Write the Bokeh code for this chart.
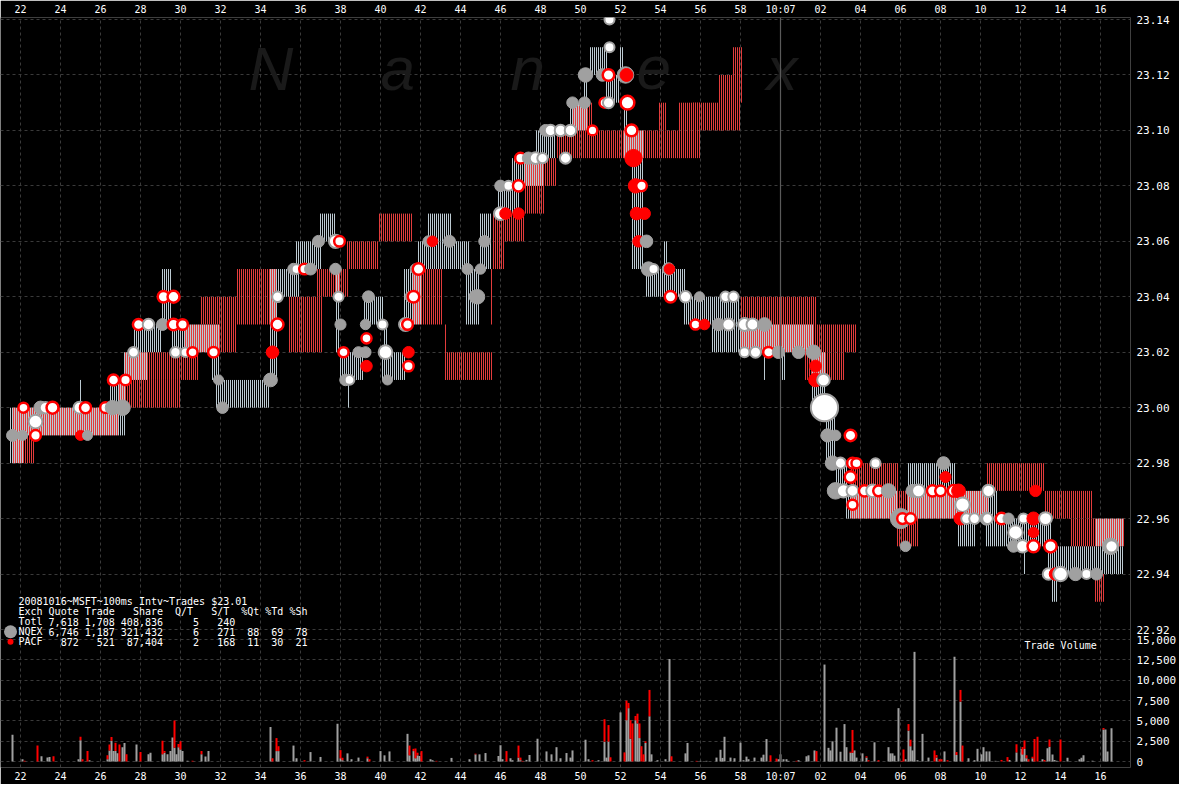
import numpy as np
from bokeh.plotting import figure
from bokeh.models import ColumnDataSource, FixedTicker, LinearAxis, Range1d, Span, Label
from bokeh.core.properties import value
from bokeh.embed import file_html
from bokeh.resources import INLINE

# ---------------- data ----------------
TICK_SECONDS = [22, 24, 26, 28, 30, 32, 34, 36, 38, 40, 42, 44, 46, 48, 50, 52, 54, 56, 58,
                60, 62, 64, 66, 68, 70, 72, 74, 76]
TICK_LABELS = ["22", "24", "26", "28", "30", "32", "34", "36", "38", "40", "42", "44", "46", "48",
               "50", "52", "54", "56", "58", "10:07", "02", "04", "06", "08", "10", "12", "14", "16"]
PRICE_TICKS = [22.92, 22.94, 22.96, 22.98, 23.00, 23.02, 23.04, 23.06, 23.08, 23.10, 23.12, 23.14]
PRICE_LABELS = ["22.92", "22.94", "22.96", "22.98", "23.00", "23.02", "23.04", "23.06", "23.08",
                "23.10", "23.12", "23.14"]
VOLUME_TICKS = [0, 2500, 5000, 7500, 10000, 12500, 15000]
VOLUME_LABELS = ["0", "2,500", "5,000", "7,500", "10,000", "12,500", "15,000"]

# NQEX quote ranges (seconds after 10:06:00, low, high)
NQ_T0 = [21.5, 22.2, 25.0, 26.5, 27.2, 27.7, 29.1, 29.6, 31.6, 31.8, 34.5, 34.8, 35.8, 37.0, 37.75,
         38.0, 38.4, 39.25, 40.1, 40.2, 41.25, 41.9, 42.4, 44.3, 45.0, 45.9, 46.6, 47.75, 49.5, 50.2,
         50.5, 51.3, 52.0, 52.2, 52.2, 52.6, 53.3, 54.2, 55.25, 56.6, 59.2, 60.0, 61.6, 62.3, 62.8,
         63.3, 66.4, 66.4, 68.9, 70.3, 70.9, 72.2, 73.4, 73.6, 75.85]
NQ_T1 = [22.2, 27.3, 25.1, 27.3, 28.4, 29.1, 29.6, 32.0, 32.0, 34.5, 34.9, 36.0, 37.1, 37.75, 38.0,
         39.2, 38.5, 40.2, 41.3, 40.35, 42.1, 44.5, 43.6, 45.0, 45.6, 47.0, 48.2, 48.8, 50.4, 50.4,
         51.4, 52.0, 52.2, 52.4, 53.2, 53.25, 55.3, 54.4, 58.0, 61.7, 59.3, 60.3, 62.3, 62.8, 63.4,
         65.9, 68.75, 70.4, 69.75, 70.9, 73.6, 72.3, 77.25, 73.9, 77.25]
NQ_LO = [22.98, 22.99, 23.00, 23.00, 23.01, 23.02, 23.03, 23.02, 23.01, 23.00, 23.01, 23.04, 23.05,
         23.06, 23.02, 23.01, 23.00, 23.03, 23.01, 23.02, 23.03, 23.05, 23.06, 23.03, 23.05, 23.07,
         23.08, 23.09, 23.10, 23.11, 23.12, 23.11, 23.12, 23.10, 23.09, 23.05, 23.04, 23.05, 23.03,
         23.02, 23.01, 23.01, 23.00, 22.98, 22.97, 22.96, 22.97, 22.96, 22.95, 22.95, 22.95, 22.94,
         22.94, 22.93, 22.95]
NQ_HI = [23.00, 23.00, 23.01, 23.01, 23.02, 23.03, 23.05, 23.03, 23.02, 23.01, 23.05, 23.05, 23.06,
         23.07, 23.05, 23.02, 23.01, 23.04, 23.02, 23.03, 23.05, 23.06, 23.07, 23.05, 23.07, 23.08,
         23.09, 23.10, 23.11, 23.12, 23.13, 23.12, 23.13, 23.11, 23.10, 23.09, 23.05, 23.06, 23.04,
         23.03, 23.02, 23.02, 23.02, 23.00, 22.98, 22.97, 22.98, 22.97, 22.96, 22.97, 22.96, 22.95,
         22.95, 22.94, 22.96]

# PACF quote ranges
PA_T0 = [21.6, 22.2, 22.1, 26.9, 27.2, 30.2, 31.0, 32.0, 32.8, 35.35, 36.75, 38.3, 39.9, 41.6, 43.2,
         43.2, 45.5, 45.6, 45.6, 47.2, 48.2, 48.8, 49.6, 53.9, 54.9, 55.6, 56.9, 57.55, 58.0, 61.2,
         61.75, 63.5, 65.85, 66.9, 70.3, 73.2, 74.5, 75.6, 75.7]
PA_T1 = [22.2, 22.7, 26.9, 30.0, 30.9, 32.0, 32.0, 32.8, 34.85, 37.1, 38.4, 39.9, 41.6, 43.1, 43.3,
         45.6, 45.6, 46.25, 47.2, 48.25, 48.8, 55.0, 50.6, 54.3, 56.0, 57.2, 58.0, 58.1, 61.75, 63.25,
         63.75, 65.9, 66.9, 70.4, 73.2, 75.6, 75.6, 77.25, 76.25]
PA_LO = [22.98, 22.98, 22.99, 23.00, 23.01, 23.02, 23.03, 23.02, 23.03, 23.02, 23.04, 23.05, 23.06,
         23.03, 23.01, 23.01, 23.03, 23.05, 23.06, 23.07, 23.08, 23.09, 23.10, 23.10, 23.09, 23.10,
         23.10, 23.11, 23.02, 23.01, 23.02, 22.96, 22.95, 22.96, 22.97, 22.96, 22.95, 22.95, 22.93]
PA_HI = [23.00, 22.99, 23.00, 23.01, 23.02, 23.03, 23.04, 23.04, 23.05, 23.04, 23.05, 23.06, 23.07,
         23.05, 23.03, 23.02, 23.05, 23.07, 23.07, 23.09, 23.09, 23.10, 23.11, 23.11, 23.11, 23.11,
         23.12, 23.13, 23.04, 23.02, 23.03, 22.98, 22.97, 22.97, 22.98, 22.97, 22.96, 22.96, 22.94]

# trades: time, price, shares, type (G = NQEX, W = NQEX white, R = PACF, RW = PACF white)
TR_T = [21.6, 22.1, 22.15, 22.75, 22.75, 23.0, 23.25, 23.6, 24.95, 25.25, 25.0, 25.35, 26.25, 26.6,
        27.1, 26.65, 27.25, 27.65, 27.9, 28.4, 29.1, 29.65, 30.1, 29.15, 29.65, 29.75, 30.25, 30.6,
        31.65, 31.9, 32.1, 34.5, 34.6, 34.85, 34.85, 35.65, 35.8, 36.2, 36.5, 36.9, 37.75, 37.95,
        37.75, 37.9, 38.0, 38.15, 38.25, 38.45, 39.4, 39.25, 40.1, 39.3, 38.9, 39.25, 39.3, 40.25,
        40.35, 41.25, 41.35, 41.4, 41.4, 41.5, 41.65, 41.75, 41.9, 42.4, 42.6, 43.45, 44.35, 45.0,
        44.75, 44.85, 45.2, 46.0, 46.25, 46.9, 46.0, 46.4, 46.9, 47.0, 47.4, 47.75, 48.1, 49.25,
        48.25, 48.5, 49.0, 49.5, 50.6, 49.6, 50.2, 51.2, 51.4, 50.25, 51.1, 51.4, 51.45, 51.45,
        52.25, 52.3, 52.35, 52.55, 52.65, 52.75, 53.05, 52.8, 53.2, 52.9, 53.3, 53.4, 53.65, 54.4,
        54.45, 54.5, 55.25, 55.95, 57.25, 57.65, 55.75, 56.2, 56.9, 57.4, 58.2, 58.6, 59.2, 58.2,
        58.75, 59.4, 59.9, 60.9, 61.65, 61.75, 61.75, 62.15, 62.2, 62.35, 62.75, 63.5, 62.6, 63.0,
        63.6, 63.8, 64.75, 63.5, 63.6, 62.75, 63.15, 63.6, 64.2, 64.6, 64.9, 65.4, 66.6, 66.9, 67.6,
        68.0, 68.65, 68.9, 70.4, 72.75, 68.15, 68.25, 69.1, 66.0, 66.1, 66.5, 69.0, 69.3, 69.7,
        70.3, 70.35, 71.05, 71.4, 72.15, 72.65, 73.25, 66.25, 71.75, 72.65, 71.65, 72.1, 72.65,
        73.5, 76.5, 76.55, 73.4, 73.75, 74.0, 74.75, 75.3, 75.8]
TR_P = [22.99, 22.99, 23.00, 22.995, 22.99, 23.00, 23.00, 23.00, 23.00, 23.00, 22.99, 22.99, 23.00,
        23.00, 23.00, 23.01, 23.01, 23.02, 23.03, 23.03, 23.03, 23.03, 23.03, 23.04, 23.04, 23.02,
        23.02, 23.02, 23.02, 23.01, 23.00, 23.01, 23.02, 23.03, 23.04, 23.05, 23.05, 23.05, 23.05,
        23.06, 23.06, 23.06, 23.05, 23.04, 23.03, 23.02, 23.01, 23.01, 23.04, 23.03, 23.03, 23.025,
        23.02, 23.02, 23.015, 23.02, 23.01, 23.03, 23.03, 23.02, 23.015, 23.04, 23.04, 23.05, 23.05,
        23.06, 23.06, 23.06, 23.05, 23.05, 23.04, 23.04, 23.06, 23.07, 23.07, 23.07, 23.08, 23.08,
        23.08, 23.09, 23.09, 23.09, 23.09, 23.09, 23.10, 23.10, 23.10, 23.10, 23.10, 23.11, 23.11,
        23.11, 23.11, 23.12, 23.12, 23.12, 23.13, 23.14, 23.12, 23.12, 23.11, 23.10, 23.09, 23.08,
        23.08, 23.07, 23.07, 23.06, 23.06, 23.05, 23.05, 23.05, 23.05, 23.04, 23.04, 23.04, 23.04,
        23.04, 23.03, 23.03, 23.03, 23.03, 23.03, 23.03, 23.03, 23.02, 23.02, 23.02, 23.02, 23.02,
        23.02, 23.015, 23.01, 23.01, 23.00, 22.99, 22.99, 22.99, 22.98, 22.98, 22.98, 22.98, 22.98,
        22.975, 22.965, 22.97, 22.97, 22.97, 22.97, 22.97, 22.97, 22.97, 22.97, 22.97, 22.97, 22.97,
        22.97, 22.97, 22.97, 22.97, 22.98, 22.975, 22.965, 22.96, 22.96, 22.96, 22.96, 22.96, 22.96,
        22.96, 22.96, 22.96, 22.96, 22.96, 22.96, 22.96, 22.95, 22.955, 22.955, 22.95, 22.95, 22.95,
        22.95, 22.95, 22.95, 22.94, 22.94, 22.94, 22.94, 22.94, 22.94]
TR_SH = [600, 200, 200, 1200, 300, 1000, 500, 600, 600, 400, 200, 200, 300, 1500, 2000, 400, 300,
         300, 400, 500, 600, 500, 300, 500, 600, 300, 150, 200, 300, 200, 500, 1200, 800, 600, 300,
         500, 150, 300, 600, 600, 1000, 300, 500, 200, 400, 200, 500, 150, 600, 250, 200, 200, 400,
         400, 500, 1200, 200, 900, 300, 500, 250, 400, 500, 300, 500, 400, 300, 600, 400, 250, 600,
         1500, 500, 900, 500, 500, 500, 200, 400, 300, 700, 500, 250, 400, 600, 500, 500, 500, 150,
         500, 500, 200, 400, 1500, 800, 500, 200, 200, 2500, 900, 1200, 600, 3000, 1500, 300, 800,
         600, 500, 800, 1500, 200, 800, 300, 500, 500, 200, 250, 250, 200, 300, 800, 700, 900, 600,
         1200, 200, 400, 300, 800, 800, 1500, 600, 1200, 800, 12000, 1000, 300, 500, 1500, 400, 300,
         200, 200, 500, 200, 2500, 1000, 600, 400, 800, 300, 1500, 900, 900, 400, 300, 500, 1200,
         700, 500, 900, 400, 1500, 5000, 300, 300, 900, 300, 300, 1000, 300, 500, 400, 200, 1000,
         900, 300, 1500, 300, 600, 800, 600, 700, 2500, 700, 500, 800, 1500, 1000, 200, 600]
TR_TY = ["G", "G", "RW", "W", "RW", "G", "W", "RW", "W", "RW", "R", "G", "RW", "G", "G", "RW", "RW",
         "W", "RW", "W", "G", "RW", "RW", "RW", "RW", "W", "W", "RW", "RW", "G", "G", "G", "R", "RW",
         "W", "G", "W", "RW", "G", "G", "W", "RW", "G", "W", "G", "RW", "G", "W", "G", "G", "W", "RW",
         "G", "G", "R", "W", "G", "W", "RW", "R", "RW", "G", "RW", "G", "RW", "G", "R", "G", "G", "G",
         "W", "G", "G", "W", "R", "R", "G", "W", "RW", "RW", "G", "W", "W", "W", "G", "W", "W", "W",
         "RW", "G", "G", "RW", "W", "G", "G", "RW", "W", "W", "G", "R", "RW", "RW", "R", "R", "RW",
         "R", "R", "R", "G", "G", "W", "G", "R", "RW", "W", "G", "W", "W", "RW", "R", "G", "W", "W",
         "W", "G", "W", "W", "RW", "G", "G", "G", "R", "R", "W", "W", "G", "G", "RW", "G", "W", "RW",
         "RW", "W", "RW", "RW", "G", "W", "W", "RW", "W", "RW", "G", "G", "W", "RW", "RW", "RW", "R",
         "W", "R", "G", "R", "W", "G", "RW", "RW", "R", "W", "W", "G", "W", "RW", "G", "W", "R", "W",
         "G", "W", "R", "G", "W", "RW", "RW", "G", "W", "W", "R", "W", "G", "W", "G"]

# trade volume per 100 ms interval: time, NQEX shares, PACF shares
VOL_T = [21.6, 22.1, 22.2, 22.85, 23.05, 23.35, 23.45, 23.65, 24.9, 25.0, 25.1, 25.35, 25.45, 26.35,
         26.45, 26.55, 26.65, 26.75, 26.85, 26.95, 27.1, 27.2, 27.3, 27.8, 28.0, 28.4, 28.5, 29.1,
         29.2, 29.35, 29.5, 29.6, 29.7, 29.8, 29.9, 30.0, 30.1, 30.35, 30.6, 31.05, 31.25, 31.4,
         34.5, 34.6, 34.8, 34.9, 35.65, 35.8, 36.2, 36.5, 37.0, 37.85, 38.0, 38.1, 38.35, 38.55,
         38.9, 39.35, 39.45, 40.0, 40.2, 40.45, 41.35, 41.45, 41.65, 41.75, 41.85, 41.95, 42.05,
         42.5, 42.6, 42.8, 43.55, 44.45, 44.75, 44.95, 45.25, 45.9, 46.0, 46.1, 46.3, 46.5, 46.6,
         46.9, 47.0, 47.1, 47.3, 47.45, 47.85, 48.3, 48.55, 48.8, 49.0, 49.3, 49.5, 49.6, 50.25,
         50.4, 50.6, 50.9, 51.2, 51.3, 51.4, 51.5, 52.0, 52.2, 52.3, 52.4, 52.5, 52.6, 52.75, 52.85,
         52.95, 53.05, 53.15, 53.25, 53.45, 53.55, 53.85, 54.25, 54.45, 54.55, 55.25, 55.35, 55.8,
         56.0, 56.3, 56.8, 57.0, 57.1, 57.2, 57.5, 57.7, 58.0, 58.15, 58.3, 58.4, 58.7, 59.05,
         59.15, 59.3, 59.5, 59.8, 59.9, 60.0, 60.15, 60.3, 60.4, 60.8, 60.9, 61.3, 61.4, 61.7, 61.8,
         62.2, 62.4, 62.5, 62.6, 62.8, 63.0, 63.2, 63.3, 63.5, 63.6, 63.7, 63.8, 64.1, 64.3, 64.4,
         64.7, 64.9, 65.4, 65.5, 65.6, 65.7, 65.9, 66.05, 66.15, 66.25, 66.4, 66.5, 66.6, 66.7,
         66.85, 67.1, 67.4, 67.7, 67.8, 67.95, 68.05, 68.2, 68.35, 68.7, 68.8, 69.0, 69.1, 69.4,
         69.7, 69.85, 70.05, 70.15, 70.3, 70.45, 70.75, 71.05, 71.35, 71.45, 71.8, 72.05, 72.1, 72.2,
         72.3, 72.4, 72.6, 72.7, 72.85, 73.1, 73.2, 73.35, 73.45, 73.6, 73.7, 73.8, 74.0, 74.35,
         74.95, 75.05, 75.15, 75.6, 76.15, 76.25, 76.35, 76.55]
VOL_NQ = [3280, 280, 0, 0, 640, 480, 560, 0, 280, 2600, 0, 0, 160, 280, 1360, 2560, 1280, 1280, 1000,
          0, 1760, 2280, 0, 2080, 0, 880, 1080, 880, 1080, 880, 1280, 2960, 1680, 880, 1760, 1480,
          1280, 80, 0, 880, 600, 1280, 4240, 0, 1280, 1280, 1960, 400, 0, 1160, 560, 4640, 400, 160,
          1000, 280, 480, 400, 0, 1280, 760, 1240, 3400, 760, 1280, 400, 760, 680, 0, 280, 160, 0,
          440, 280, 880, 880, 1040, 680, 2000, 280, 0, 400, 160, 480, 160, 0, 200, 800, 2800, 1240,
          880, 1760, 400, 1040, 480, 1360, 2680, 280, 0, 160, 2440, 480, 2440, 0, 6040, 0, 5080,
          6560, 2800, 0, 5080, 4680, 2880, 0, 0, 2280, 5560, 880, 160, 280, 12600, 0, 1000, 2280, 0,
          80, 80, 480, 1440, 440, 3040, 480, 400, 2320, 160, 600, 280, 480, 480, 840, 2760, 0, 0,
          280, 880, 280, 280, 80, 0, 160, 640, 760, 1360, 0, 11920, 1680, 1360, 2480, 4160, 1200,
          4600, 1760, 1080, 1080, 1360, 480, 1000, 480, 0, 2360, 0, 1760, 1000, 1000, 720, 6560, 0,
          0, 280, 3800, 1880, 1360, 13480, 160, 3400, 480, 0, 480, 0, 0, 1240, 0, 12880, 800, 7360,
          0, 400, 160, 1560, 880, 1760, 1240, 1240, 80, 0, 0, 190, 1120, 1540, 850, 1540, 390, 0,
          390, 0, 0, 270, 0, 1620, 1800, 850, 190, 80, 0, 460, 270, 460, 770, 80, 3930, 3930, 1230,
          4080]
VOL_PA = [0, 0, 80, 1960, 0, 0, 0, 640, 0, 440, 280, 1280, 0, 480, 720, 440, 0, 1040, 0, 2080, 0,
          0, 880, 0, 1160, 0, 0, 1680, 200, 0, 0, 0, 3360, 0, 400, 1000, 0, 0, 80, 400, 0, 0, 0, 400,
          1600, 600, 0, 0, 160, 0, 0, 0, 1000, 300, 0, 0, 0, 200, 280, 0, 0, 0, 0, 1200, 280, 1200,
          320, 0, 1280, 0, 0, 80, 0, 0, 80, 0, 0, 0, 0, 0, 1280, 0, 0, 1480, 320, 80, 0, 0, 0, 0, 0,
          0, 0, 0, 0, 0, 0, 0, 160, 0, 2760, 0, 2040, 520, 0, 1120, 2400, 640, 2280, 4680, 520,
          1200, 1800, 1880, 880, 200, 3240, 0, 0, 0, 0, 640, 0, 0, 80, 0, 0, 0, 0, 0, 0, 0, 0, 0, 0,
          0, 0, 0, 0, 0, 0, 760, 360, 0, 0, 0, 0, 0, 80, 0, 0, 0, 0, 1280, 0, 0, 0, 0, 0, 0, 0, 0,
          120, 2800, 0, 0, 0, 160, 160, 0, 160, 0, 0, 0, 0, 0, 80, 1480, 0, 800, 800, 0, 0, 0, 0, 0,
          1360, 320, 280, 280, 0, 160, 0, 360, 1440, 1960, 0, 0, 0, 0, 0, 0, 0, 0, 190, 540, 0, 1000,
          0, 920, 1040, 390, 270, 190, 2770, 3040, 0, 190, 0, 900, 0, 0, 0, 2700, 0, 0, 0, 0, 0, 190,
          0, 0, 0]

LEGEND_TITLE = "20081016~MSFT~100ms Intv~Trades $23.01"
LEGEND_HEADER = ["Exch", "Quote", "Trade", "Share", "Q/T", "S/T", "%Qt", "%Td", "%Sh"]
LEGEND_TOTL = ["Totl", "7,618", "1,708", "408,836", "5", "240", "", "", ""]
LEGEND_NQEX = ["NQEX", "6,746", "1,187", "321,432", "6", "271", "88", "69", "78"]
LEGEND_PACF = ["PACF", "872", "521", "87,404", "2", "168", "11", "30", "21"]

# ---------------- layout ----------------
FW, FH = 1130, 750
PX_PER_SEC = 20.0
X0 = 21.0
X1 = X0 + FW / PX_PER_SEC
PX_PER_DOLLAR = 610 / 0.22
Y1 = 23.14 + 2 / PX_PER_DOLLAR
Y0 = Y1 - FH / PX_PER_DOLLAR
VOL_PER_PX = 15000 / 122.0
V0 = -(FH - 744) * VOL_PER_PX
V1 = V0 + FH * VOL_PER_PX


def vol_to_price(v):
    return Y0 + (v - V0) / (V1 - V0) * (Y1 - Y0)


MONO = "DejaVu Sans Mono"
GRAY = "#a0a0a0"
NQ_LINE = "#bccad2"
PA_LINE = "#e23c3c"

p = figure(frame_width=FW, frame_height=FH, x_range=Range1d(X0, X1), y_range=Range1d(Y0, Y1),
           output_backend="svg", toolbar_location=None, y_axis_location="right",
           background_fill_color="black", border_fill_color="black", outline_line_color=None,
           min_border_left=0, min_border_right=4, min_border_top=0, min_border_bottom=0)
p.extra_y_ranges = {"vol": Range1d(V0, V1)}

# axes
x_ticker = FixedTicker(ticks=TICK_SECONDS)
x_over = {}
for t, lab in zip(TICK_SECONDS, TICK_LABELS):
    x_over[t] = lab
    x_over[str(t)] = lab

y_ticks, y_over = [], {}
for v, lab in zip(PRICE_TICKS, PRICE_LABELS):
    y_ticks.append(v)
    y_over[v] = lab
    y_over[repr(v)] = lab
for v, lab in zip(VOLUME_TICKS, VOLUME_LABELS):
    pv = vol_to_price(v)
    y_ticks.append(pv)
    y_over[pv] = lab
    y_over[repr(pv)] = lab
y_ticker = FixedTicker(ticks=y_ticks)


def style_axis(ax, size):
    ax.axis_line_color = None
    ax.major_tick_line_color = None
    ax.minor_tick_line_color = None
    ax.major_tick_out = 0
    ax.major_tick_in = 0
    ax.major_label_text_color = "white"
    ax.major_label_text_font = MONO
    ax.major_label_text_font_size = size


xb = p.xaxis[0]
xb.ticker = x_ticker
xb.major_label_overrides = x_over
style_axis(xb, "10px")
xb.major_label_standoff = 3
xa = LinearAxis(ticker=x_ticker, major_label_overrides=x_over)
style_axis(xa, "10px")
xa.major_label_standoff = 3
p.add_layout(xa, "above")

ya = p.yaxis[0]
ya.ticker = y_ticker
ya.major_label_overrides = y_over
style_axis(ya, "11px")
ya.major_label_standoff = 6

p.xgrid.ticker = x_ticker
p.ygrid.ticker = y_ticker
for g in (p.xgrid, p.ygrid):
    g.grid_line_color = "#3a3a3a"
    g.grid_line_dash = "3 3"
    g.grid_line_width = 1

# watermark
for letter, tx in zip(["N", "a", "n", "e", "x"], [33.4, 40.0, 46.5, 52.8, 59.3]):
    p.add_layout(Label(x=tx, y=23.1225, text=letter, text_font="Liberation Sans",
                       text_font_size="62px", text_font_style="italic", text_color="#1a1a1a",
                       text_baseline="alphabetic", level="underlay"))

p.add_layout(Span(location=60, dimension="height", line_color="#5a5a5a", line_width=1.2))


# quotes: one vertical line per 100 ms interval
def quote_lines(t0s, t1s, los, his, offset):
    xs, ya_, yb_ = [], [], []
    for a, b, lo, hi in zip(t0s, t1s, los, his):
        for k in range(int(round(a * 10)), int(round(b * 10))):
            xs.append(k / 10 + offset)
            ya_.append(lo)
            yb_.append(hi)
    return ColumnDataSource(dict(x=xs, y0=ya_, y1=yb_))


nq_src = quote_lines(NQ_T0, NQ_T1, NQ_LO, NQ_HI, 0.0)
pa_src = quote_lines(PA_T0, PA_T1, PA_LO, PA_HI, 0.05)
p.segment(x0="x", y0="y0", x1="x", y1="y1", source=nq_src, line_color=NQ_LINE, line_width=1)
p.segment(x0="x", y0="y0", x1="x", y1="y1", source=pa_src, line_color=PA_LINE, line_width=1)

# volume bars (stacked: NQEX gray below, PACF red above)
vt = np.array(VOL_T)
vn = np.array(VOL_NQ, dtype=float)
vp = np.array(VOL_PA, dtype=float)
p.vbar(x=vt, bottom=0, top=vn, width=0.1, fill_color=GRAY, line_color=None, y_range_name="vol")
p.vbar(x=vt, bottom=vn, top=vn + vp, width=0.1, fill_color="red", line_color=None,
       y_range_name="vol")

# trades
FILL = {"G": GRAY, "W": "white", "R": "red", "RW": "white"}
EDGE = {"G": GRAY, "W": GRAY, "R": "red", "RW": "red"}
EDGE_W = {"G": 1, "W": 2, "R": 1, "RW": 2.5}
tr = ColumnDataSource(dict(
    x=TR_T, y=TR_P,
    size=[7.5 + 0.18 * np.sqrt(s) for s in TR_SH],
    fill=[FILL[k] for k in TR_TY],
    edge=[EDGE[k] for k in TR_TY],
    lw=[EDGE_W[k] for k in TR_TY],
))
p.scatter(x="x", y="y", size="size", fill_color="fill", line_color="edge", line_width="lw",
          source=tr)

# legend block
CW = 6.02
LINE_PX = 10.0
y_top = 22.93
ys = [y_top - i * LINE_PX / PX_PER_DOLLAR for i in range(5)]
HEAD_END = [3, 9, 15, 23, 28, 34, 39, 43, 47]
VAL_END = [3, 9, 15, 23, 29, 35, 39, 43, 47]
lx = [X0 + 18 / PX_PER_SEC]
ly = [ys[0]]
lt = [LEGEND_TITLE]
rx, ry, rt, ro = [], [], [], []
for txt, end in zip(LEGEND_HEADER, HEAD_END):
    rx.append(lx[0]); ry.append(ys[1]); rt.append(txt); ro.append((end + 1) * CW)
for row, yy in zip([LEGEND_TOTL, LEGEND_NQEX, LEGEND_PACF], ys[2:]):
    for txt, end in zip(row, VAL_END):
        if txt:
            rx.append(lx[0]); ry.append(yy); rt.append(txt); ro.append((end + 1) * CW)
p.text(x=lx, y=ly, text=lt, text_font=value(MONO), text_font_size="10px", text_color="white",
       text_baseline="middle", text_align="left")
p.text(x=rx, y=ry, text=rt, x_offset=ro, text_font=value(MONO), text_font_size="10px",
       text_color="white", text_baseline="middle", text_align="right")
p.scatter(x=[X0 + 10 / PX_PER_SEC] * 2, y=[ys[3], ys[4]], size=[13, 6], fill_color=[GRAY, "red"],
          line_color=None)

p.add_layout(Label(x=72.2, y=14300, y_range_name="vol", text="Trade Volume",
                   text_font=MONO, text_font_size="10px", text_color="white",
                   text_baseline="middle"))

open("out.html", "w").write(file_html(p, INLINE))
